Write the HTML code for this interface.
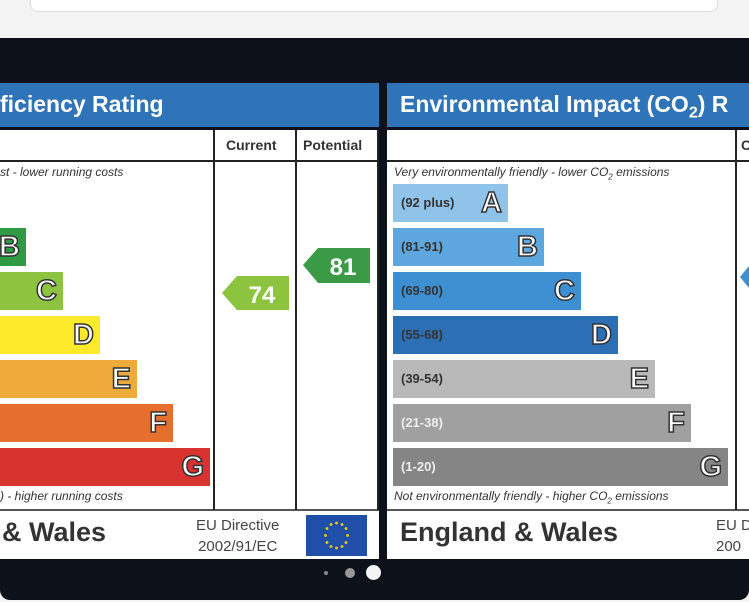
<!DOCTYPE html>
<html><head><style>
*{margin:0;padding:0;box-sizing:border-box}
body{width:749px;height:602px;background:#f3f3f3;position:relative;overflow:hidden;font-family:"Liberation Sans",sans-serif}
.a{position:absolute}
.bar{position:absolute;height:38px}
.L{position:absolute;right:6px;top:2px;font-size:29px;font-weight:bold;color:#fff;-webkit-text-stroke:1.5px #333;line-height:34px}
.rng{position:absolute;left:8px;top:11px;font-size:13px;font-weight:bold;color:#333}
.it{font-style:italic;font-size:12px;color:#333}
</style></head><body>
<div class="a" style="left:30px;top:-10px;width:688px;height:22px;background:#fff;border:1px solid #ddd;border-radius:8px"></div>
<div class="a" style="left:0;top:38px;width:749px;height:562px;background:#0d1119;border-radius:0 0 10px 10px"></div>

<!-- left panel -->
<div class="a" style="left:0;top:83px;width:379px;height:44px;background:#2f73b8;color:#fff;font-size:23px;font-weight:bold;line-height:42px;padding-left:0">ficiency Rating</div>
<div class="a" style="left:0;top:130px;width:379px;height:429px;background:#fff"></div>
<div class="a" style="left:0;top:160px;width:379px;height:2px;background:#222"></div>
<div class="a" style="left:0;top:509px;width:379px;height:2px;background:#555"></div>
<div class="a" style="left:213px;top:130px;width:2px;height:380px;background:#222"></div>
<div class="a" style="left:295px;top:130px;width:2px;height:380px;background:#222"></div>
<div class="a" style="left:377px;top:130px;width:2px;height:380px;background:#222"></div>
<div class="a" style="left:226px;top:137px;font-size:14px;font-weight:bold;color:#333">Current</div>
<div class="a" style="left:303px;top:137px;font-size:14px;font-weight:bold;color:#333">Potential</div>
<div class="a it" style="left:0;top:165px">st - lower running costs</div>
<div class="bar" style="left:0;top:228px;width:26px;background:#2f9a44"><span class="L">B</span></div>
<div class="bar" style="left:0;top:272px;width:63px;background:#8cc43f"><span class="L">C</span></div>
<div class="bar" style="left:0;top:316px;width:100px;background:#fcea2b"><span class="L">D</span></div>
<div class="bar" style="left:0;top:360px;width:137px;background:#efab3a"><span class="L">E</span></div>
<div class="bar" style="left:0;top:404px;width:173px;background:#e66f2e"><span class="L">F</span></div>
<div class="bar" style="left:0;top:448px;width:210px;background:#d8332f"><span class="L">G</span></div>
<div class="a it" style="left:0;top:489px">) - higher running costs</div>
<svg class="a" style="left:222px;top:276px" width="67" height="34"><polygon points="0,17 15,0 67,0 67,34 15,34" fill="#8cc43f"/><text x="40" y="27" font-size="24" font-weight="bold" fill="#fff" text-anchor="middle" font-family="Liberation Sans">74</text></svg>
<svg class="a" style="left:303px;top:248px" width="67" height="35"><polygon points="0,17 15,0 67,0 67,35 15,35" fill="#3a9a45"/><text x="40" y="27" font-size="24" font-weight="bold" fill="#fff" text-anchor="middle" font-family="Liberation Sans">81</text></svg>
<div class="a" style="left:2px;top:517px;font-size:27px;font-weight:bold;color:#333">&amp; Wales</div>
<div class="a" style="left:196px;top:515px;font-size:15px;color:#444;text-align:center;line-height:21px">EU Directive<br>2002/91/EC</div>
<div class="a" style="left:306px;top:515px;width:61px;height:41px;background:#1f4fa8"></div>
<svg class="a" style="left:306px;top:515px" width="61" height="41"><g fill="#ffd400">
<circle cx="30.5" cy="8" r="1.4"/><circle cx="36" cy="9.5" r="1.4"/><circle cx="40" cy="13.5" r="1.4"/><circle cx="41.5" cy="20.5" r="1.4"/><circle cx="40" cy="27.5" r="1.4"/><circle cx="36" cy="31.5" r="1.4"/><circle cx="30.5" cy="33" r="1.4"/><circle cx="25" cy="31.5" r="1.4"/><circle cx="21" cy="27.5" r="1.4"/><circle cx="19.5" cy="20.5" r="1.4"/><circle cx="21" cy="13.5" r="1.4"/><circle cx="25" cy="9.5" r="1.4"/></g></svg>

<!-- right panel -->
<div class="a" style="left:387px;top:83px;width:362px;height:44px;background:#2f73b8;color:#fff;font-size:23px;font-weight:bold;line-height:42px;padding-left:13px;white-space:nowrap;overflow:hidden">Environmental Impact (CO<sub style="font-size:16px">2</sub>) R</div>
<div class="a" style="left:387px;top:130px;width:362px;height:429px;background:#fff"></div>
<div class="a" style="left:387px;top:160px;width:362px;height:2px;background:#222"></div>
<div class="a" style="left:387px;top:509px;width:362px;height:2px;background:#555"></div>
<div class="a" style="left:735px;top:130px;width:2px;height:380px;background:#222"></div>
<div class="a" style="left:741px;top:137px;font-size:14px;font-weight:bold;color:#333">C</div>
<div class="a it" style="left:394px;top:165px;white-space:nowrap">Very environmentally friendly - lower CO<sub style="font-size:8px">2</sub> emissions</div>
<div class="bar" style="left:393px;top:184px;width:115px;background:#8fc3ea"><span class="rng">(92 plus)</span><span class="L">A</span></div>
<div class="bar" style="left:393px;top:228px;width:151px;background:#5ea7de"><span class="rng">(81-91)</span><span class="L">B</span></div>
<div class="bar" style="left:393px;top:272px;width:188px;background:#3e8fd2"><span class="rng">(69-80)</span><span class="L">C</span></div>
<div class="bar" style="left:393px;top:316px;width:225px;background:#2c6fb5"><span class="rng">(55-68)</span><span class="L">D</span></div>
<div class="bar" style="left:393px;top:360px;width:262px;background:#b9b9b9"><span class="rng">(39-54)</span><span class="L">E</span></div>
<div class="bar" style="left:393px;top:404px;width:298px;background:#a0a0a0"><span class="rng" style="color:#eee">(21-38)</span><span class="L">F</span></div>
<div class="bar" style="left:393px;top:448px;width:335px;background:#858585"><span class="rng" style="color:#eee">(1-20)</span><span class="L">G</span></div>
<div class="a it" style="left:394px;top:489px;white-space:nowrap">Not environmentally friendly - higher CO<sub style="font-size:8px">2</sub> emissions</div>
<svg class="a" style="left:740px;top:262px" width="9" height="30"><polygon points="0,15 9,4 9,26" fill="#3e8fd2"/></svg>
<div class="a" style="left:400px;top:517px;font-size:27px;font-weight:bold;color:#333;white-space:nowrap">England &amp; Wales</div>
<div class="a" style="left:716px;top:515px;font-size:15px;color:#444;line-height:21px;white-space:nowrap">EU D<br>200</div>

<!-- dots -->
<div class="a" style="left:324px;top:571px;width:4px;height:4px;border-radius:50%;background:#888"></div>
<div class="a" style="left:345px;top:568px;width:10px;height:10px;border-radius:50%;background:#999"></div>
<div class="a" style="left:366px;top:565px;width:15px;height:15px;border-radius:50%;background:#f4f4f4"></div>
</body></html>
